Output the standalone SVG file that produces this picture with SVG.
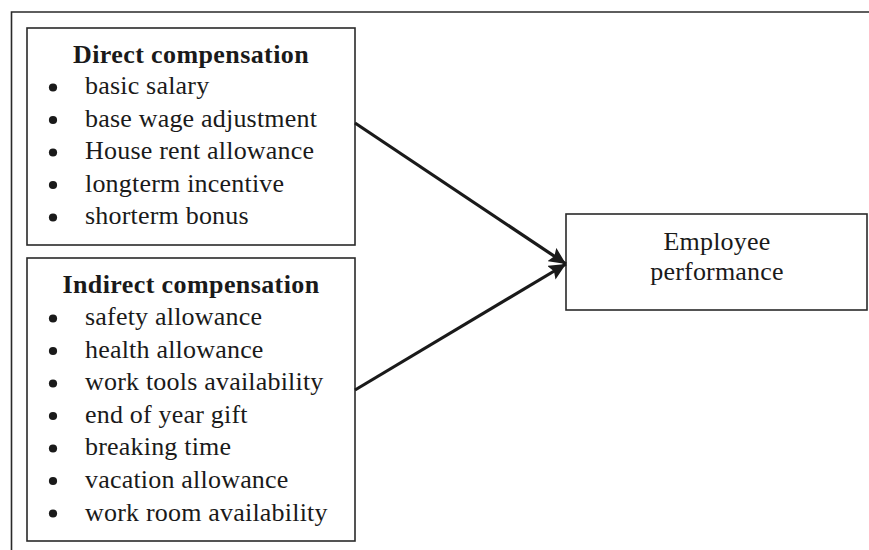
<svg xmlns="http://www.w3.org/2000/svg" width="869" height="550" viewBox="0 0 869 550">
<defs>
<style>
.box{fill:#fff;stroke:#2a2a2a;stroke-width:1.6}
.t{font-family:"Liberation Serif","Times New Roman",serif;font-size:26px;fill:#1a1a1a;letter-spacing:0.2px}
.h{font-weight:bold;text-anchor:middle;letter-spacing:0.4px}
.c{text-anchor:middle}
.b{fill:#1a1a1a}
.frame{stroke:#2a2a2a;stroke-width:1.6;fill:none}
.conn{stroke:#1a1a1a;stroke-width:3.2;fill:none;marker-end:url(#ah)}
</style>
<marker id="ah" markerUnits="userSpaceOnUse" markerWidth="20" markerHeight="16" refX="17" refY="8" orient="auto">
<path d="M0,0 L17,8 L0,16 L3,8 Z" fill="#1a1a1a"/>
</marker>
</defs>
<rect width="869" height="550" fill="#fff"/>
<path class="frame" d="M11.5,550 L11.5,12 L869,12"/>
<g id="direct">
<rect class="box" x="27" y="28" width="328" height="217"/>
<text class="t h" x="191" y="63">Direct compensation</text>
<circle class="b" cx="53" cy="87.5" r="4.1"/>
<text class="t" x="85" y="94">basic salary</text>
<circle class="b" cx="53" cy="120" r="4.1"/>
<text class="t" x="85" y="126.5">base wage adjustment</text>
<circle class="b" cx="53" cy="152.5" r="4.1"/>
<text class="t" x="85" y="159">House rent allowance</text>
<circle class="b" cx="53" cy="185" r="4.1"/>
<text class="t" x="85" y="191.5">longterm incentive</text>
<circle class="b" cx="53" cy="217.5" r="4.1"/>
<text class="t" x="85" y="224">shorterm bonus</text>
</g>
<g id="indirect">
<rect class="box" x="27" y="258" width="328" height="283"/>
<text class="t h" x="191" y="293">Indirect compensation</text>
<circle class="b" cx="53" cy="318.5" r="4.1"/>
<text class="t" x="85" y="325">safety allowance</text>
<circle class="b" cx="53" cy="351" r="4.1"/>
<text class="t" x="85" y="357.6">health allowance</text>
<circle class="b" cx="53" cy="383.5" r="4.1"/>
<text class="t" x="85" y="390">work tools availability</text>
<circle class="b" cx="53" cy="416" r="4.1"/>
<text class="t" x="85" y="422.8">end of year gift</text>
<circle class="b" cx="53" cy="448.5" r="4.1"/>
<text class="t" x="85" y="455.4">breaking time</text>
<circle class="b" cx="53" cy="481" r="4.1"/>
<text class="t" x="85" y="488">vacation allowance</text>
<circle class="b" cx="53" cy="513.5" r="4.1"/>
<text class="t" x="85" y="520.6">work room availability</text>
</g>
<g id="performance">
<rect class="box" x="566" y="214" width="301" height="96"/>
<text class="t c" x="717" y="250">Employee</text>
<text class="t c" x="717" y="280">performance</text>
</g>
<g id="connectors">
<line class="conn" x1="355" y1="123" x2="566" y2="264"/>
<line class="conn" x1="355" y1="390" x2="566" y2="264"/>
</g>
</svg>
